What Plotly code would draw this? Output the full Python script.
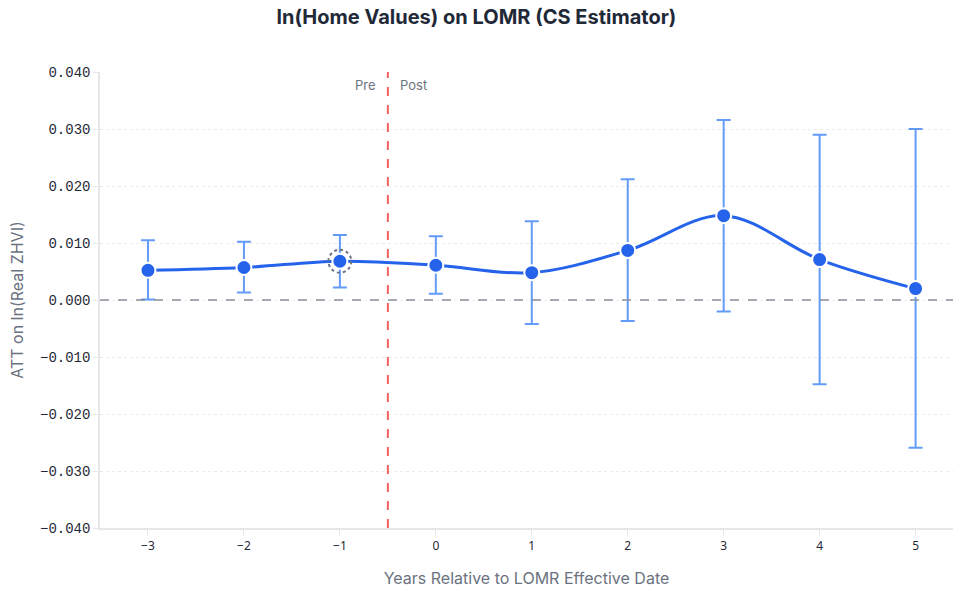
import plotly.graph_objects as go

event_time = [-3, -2, -1, 0, 1, 2, 3, 4, 5]
att = [0.0052, 0.0057, 0.0068, 0.0061, 0.0048, 0.0087, 0.0148, 0.0071, 0.0020]
ci_upper = [0.0105, 0.0102, 0.0114, 0.0112, 0.0138, 0.0212, 0.0316, 0.0290, 0.0300]
ci_lower = [0.0001, 0.0013, 0.0022, 0.0011, -0.0042, -0.0037, -0.0020, -0.0148, -0.0259]
reference_period = -1
y_ticks = [-0.04, -0.03, -0.02, -0.01, 0.0, 0.01, 0.02, 0.03, 0.04]

err_plus = [u - a for u, a in zip(ci_upper, att)]
err_minus = [a - l for a, l in zip(att, ci_lower)]

fig = go.Figure()

fig.add_trace(go.Scatter(
    x=event_time, y=att,
    mode="lines+markers",
    line=dict(color="#2563eb", width=3, shape="spline"),
    marker=dict(size=15, color="#2563eb", line=dict(color="white", width=2)),
    error_y=dict(type="data", symmetric=False, array=err_plus, arrayminus=err_minus,
                 color="rgba(59,130,246,0.8)", thickness=2, width=7),
    showlegend=False,
))

ref_idx = event_time.index(reference_period)
fig.add_shape(type="circle", xref="x", yref="y",
              xsizemode="pixel", ysizemode="pixel",
              xanchor=reference_period, yanchor=att[ref_idx],
              x0=-11.5, x1=11.5, y0=-11.5, y1=11.5,
              line=dict(color="#6b7280", width=2, dash="dot"))

fig.add_shape(type="line", xref="paper", yref="y", x0=0, x1=1, y0=0, y1=0,
              line=dict(color="#8b8f99", width=1.5, dash="dash"))
fig.add_shape(type="line", xref="x", yref="paper", x0=-0.5, x1=-0.5, y0=0, y1=1,
              line=dict(color="rgba(239,68,68,0.85)", width=2, dash="dash"))

fig.add_annotation(x=-0.5, y=1, xref="x", yref="paper", text="Pre", showarrow=False,
                   xanchor="right", yanchor="top", xshift=-10, yshift=-3,
                   font=dict(family="Inter", size=13, color="#6b7280"))
fig.add_annotation(x=-0.5, y=1, xref="x", yref="paper", text="Post", showarrow=False,
                   xanchor="left", yanchor="top", xshift=10, yshift=-3,
                   font=dict(family="Inter", size=13, color="#6b7280"))

fig.update_layout(
    width=953, height=593,
    margin=dict(l=100, r=0, t=72, b=65),
    paper_bgcolor="white", plot_bgcolor="white",
    title=dict(text="<b>ln(Home Values) on LOMR (CS Estimator)</b>", x=0.5, xanchor="center",
               y=0.971, yanchor="middle",
               font=dict(family="Inter", size=20, color="#1f2937")),
    font=dict(family="Inter", color="#374151"),
    xaxis=dict(
        range=[-3.5, 5.39], tickvals=event_time,
        ticks="outside", ticklen=6, tickcolor="#e5e7eb",
        showline=True, linecolor="#e5e7eb", linewidth=1.5,
        showgrid=False, zeroline=False,
        tickfont=dict(family="Noto Sans", size=12, color="#1f2937"),
        title=dict(text="Years Relative to LOMR Effective Date", standoff=20,
                   font=dict(family="Inter", size=16, color="#6b7280")),
    ),
    yaxis=dict(
        range=[-0.04, 0.04], tickvals=y_ticks, tickformat=".3f",
        ticks="outside", ticklen=5, tickcolor="#e5e7eb",
        showline=True, linecolor="#e5e7eb", linewidth=1.5,
        showgrid=True, gridcolor="#ececec", griddash="dot", gridwidth=1,
        zeroline=False,
        tickfont=dict(family="Liberation Mono", size=14, color="#1f2937"),
        title=dict(text="ATT on ln(Real ZHVI)", standoff=12,
                   font=dict(family="Inter", size=16, color="#6b7280")),
    ),
)

fig.write_html("out.html")
